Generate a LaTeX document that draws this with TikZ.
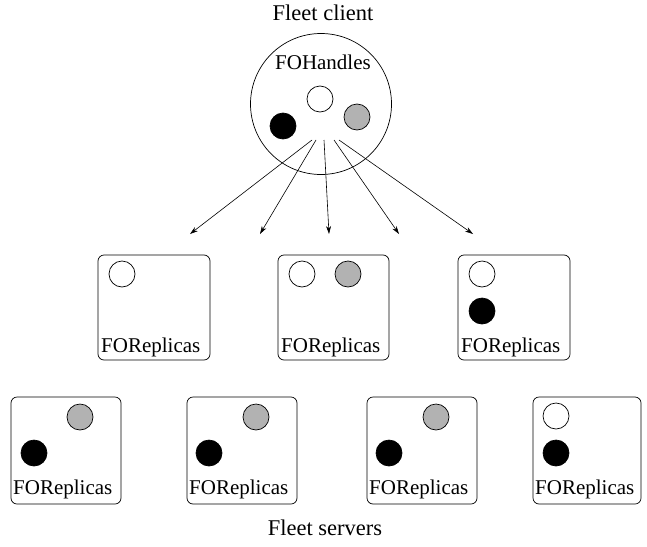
\documentclass[tikz,border=0pt]{standalone}
\usepackage{fontspec}
\setmainfont{Liberation Serif}
\usetikzlibrary{arrows.meta}
\begin{document}
\begin{tikzpicture}[x=1pt,y=-1pt,
  lbl/.style={font=\fontsize{21}{24}\selectfont, inner sep=0pt},
  ttl/.style={font=\fontsize{22.5}{26}\selectfont, inner sep=0pt},
  repbox/.style={draw, line width=0.7pt, rounded corners=6pt},
  dot/.style={draw, line width=0.7pt, circle, minimum size=26pt, inner sep=0pt},
  wdot/.style={dot, fill=white},
  gdot/.style={dot, fill=black!30},
  bdot/.style={dot, fill=black},
  arr/.style={line width=0.6pt, -{Stealth[length=8pt,width=5pt]}},
  ]
\useasboundingbox (0,0) rectangle (647,546);
% titles
\node[ttl] (client) at (323,13) {Fleet client};
\node[ttl] (servers) at (325,528) {Fleet servers};
% client circle
\node[draw, circle, line width=0.7pt, minimum size=141pt, inner sep=0pt] (fh) at (321,104) {};
\node[lbl] (fhlbl) at (323,62) {FOHandles};
\node[wdot] (fw) at (320,99) {};
\node[bdot] (fb) at (283,126) {};
\node[gdot] (fg) at (357,117) {};
% arrow start/end coordinates
\coordinate (s1) at (312,140); \coordinate (e1) at (190,234);
\coordinate (s2) at (316,140); \coordinate (e2) at (260,234);
\coordinate (s3) at (324,140); \coordinate (e3) at (329,234);
\coordinate (s4) at (334,140); \coordinate (e4) at (399,234);
\coordinate (s5) at (339,140); \coordinate (e5) at (473,234);
\draw[arr] (s1) -- (e1);
\draw[arr] (s2) -- (e2);
\draw[arr] (s3) -- (e3);
\draw[arr] (s4) -- (e4);
\draw[arr] (s5) -- (e5);
% middle row
\draw[repbox] (98,255) rectangle (210,360);
\node[lbl, anchor=base west] (m1t) at (101,352) {FOReplicas};
\node[wdot] (m1w) at (122,274) {};
\draw[repbox] (278,255) rectangle (389,360);
\node[lbl, anchor=base west] (m2t) at (281,352) {FOReplicas};
\node[wdot] (m2w) at (302,274) {};
\node[gdot] (m2g) at (348,274) {};
\draw[repbox] (458,255) rectangle (570,360);
\node[lbl, anchor=base west] (m3t) at (461,352) {FOReplicas};
\node[wdot] (m3w) at (482,274) {};
\node[bdot] (m3b) at (482,311) {};
% bottom row
\draw[repbox] (11,397) rectangle (121,504);
\node[lbl, anchor=base west] (b1t) at (13,494) {FOReplicas};
\node[gdot] (b1g) at (80,417) {};
\node[bdot] (b1b) at (34,453) {};
\draw[repbox] (187,397) rectangle (297,504);
\node[lbl, anchor=base west] (b2t) at (189,494) {FOReplicas};
\node[gdot] (b2g) at (256,417) {};
\node[bdot] (b2b) at (209,453) {};
\draw[repbox] (367,397) rectangle (477,504);
\node[lbl, anchor=base west] (b3t) at (369,494) {FOReplicas};
\node[gdot] (b3g) at (436,417) {};
\node[bdot] (b3b) at (389,453) {};
\draw[repbox] (533,397) rectangle (641,504);
\node[lbl, anchor=base west] (b4t) at (535,494) {FOReplicas};
\node[wdot] (b4w) at (556,416) {};
\node[bdot] (b4b) at (556,453) {};
\end{tikzpicture}
\end{document}
